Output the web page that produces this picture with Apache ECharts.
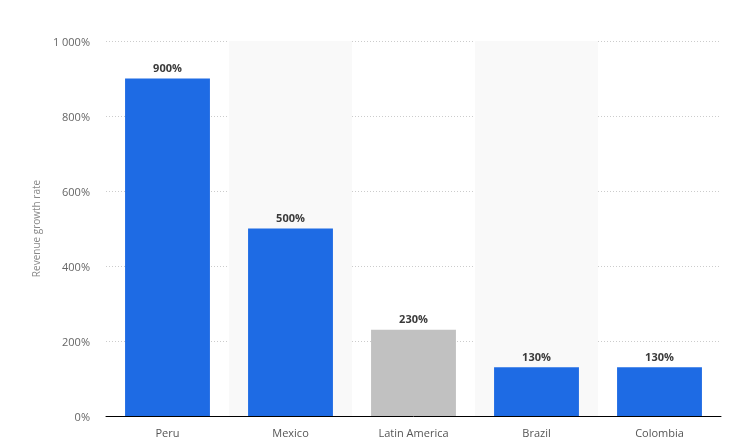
<!DOCTYPE html>
<html>
<head>
<meta charset="utf-8">
<script src="https://cdn.jsdelivr.net/npm/echarts@6/dist/echarts.min.js"></script>
<style>
html,body{margin:0;padding:0;background:#fff;}
#c{width:730px;height:445px;}
</style>
</head>
<body>
<div id="c"></div>
<script>
var categories = ['Peru', 'Mexico', 'Latin America', 'Brazil', 'Colombia'];
var values = [900, 500, 230, 130, 130];
var highlight = [false, false, true, false, false];
var yTicks = [0, 200, 400, 600, 800, 1000];

function fmt(v) {
  var s = String(v);
  return s.replace(/\B(?=(\d{3})+(?!\d))/g, ' ') + '%';
}

var chart = echarts.init(document.getElementById('c'));
chart.setOption({
  animation: false,
  textStyle: { fontFamily: 'Open Sans, sans-serif' },
  grid: { left: 106, right: 9, top: 41, bottom: 29 },
  xAxis: {
    type: 'category',
    data: categories,
    axisLine: { lineStyle: { color: '#000', width: 1 } },
    axisTick: { show: false },
    axisLabel: { color: '#555', fontSize: 11, margin: 12 },
    splitArea: { show: true, areaStyle: { color: ['rgba(0,0,0,0)', '#f9f9f9'] } }
  },
  yAxis: {
    type: 'value',
    min: yTicks[0],
    max: yTicks[yTicks.length - 1],
    interval: 200,
    name: 'Revenue growth rate',
    nameLocation: 'middle',
    nameGap: 53,
    nameTextStyle: { color: '#888', fontSize: 10 },
    axisLine: { show: false },
    axisTick: { show: false },
    axisLabel: { color: '#666', fontSize: 11, margin: 16, verticalAlign: 'top', lineHeight: 13, padding: [-5, 0, 0, 0], formatter: fmt },
    splitLine: { lineStyle: { color: '#ccc', type: [1, 2], width: 1 } }
  },
  series: [{
    type: 'bar',
    barCategoryGap: '31%',
    data: values.map(function (v, i) {
      return { value: v, itemStyle: { color: highlight[i] ? '#c1c1c1' : '#1e6be4' } };
    }),
    label: {
      show: true,
      position: 'top',
      distance: 4,
      color: '#3a3a3a',
      fontSize: 11,
      fontWeight: 'bold',
      formatter: function (p) { return fmt(p.value); }
    }
  }]
});
</script>
</body>
</html>
